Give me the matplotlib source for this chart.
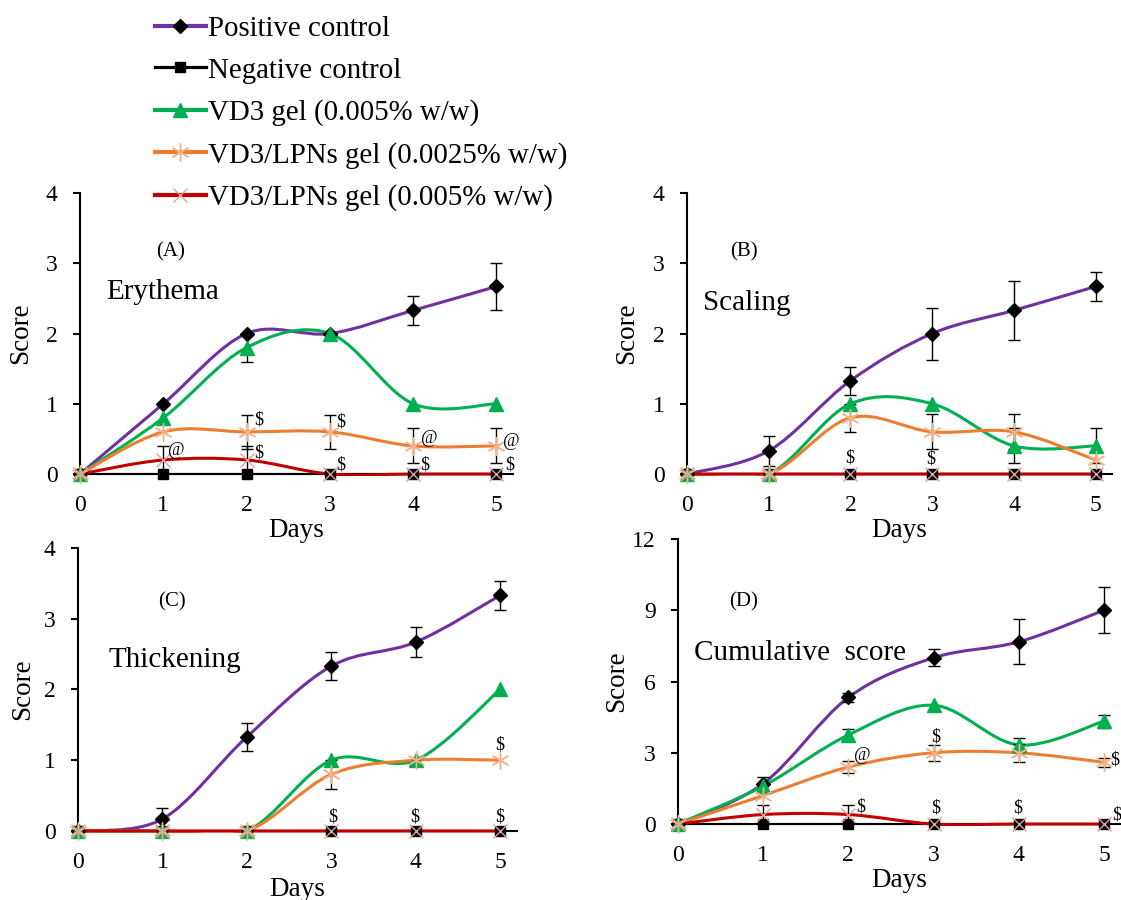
import numpy as np
import matplotlib
matplotlib.use("Agg")
import matplotlib.pyplot as plt
from matplotlib.path import Path
from matplotlib.patches import PathPatch, Rectangle
from matplotlib.lines import Line2D

plt.rcParams["font.family"] = ["Liberation Serif", "DejaVu Serif"]

days = [0, 1, 2, 3, 4, 5]
series_names = ["Positive control", "Negative control", "VD3 gel (0.005% w/w)",
                "VD3/LPNs gel (0.0025% w/w)", "VD3/LPNs gel (0.005% w/w)"]

# (A) Erythema
ery_pos = [0, 1.0, 2.0, 2.0, 2.33, 2.67]
ery_pos_err = [0, 0, 0, 0, 0.21, 0.33]
ery_neg = [0, 0, 0, 0, 0, 0]
ery_vd3 = [0, 0.8, 1.8, 2.0, 1.0, 1.0]
ery_vd3_err = [0, 0, 0.2, 0, 0, 0]
ery_lpn25 = [0, 0.6, 0.6, 0.6, 0.4, 0.4]
ery_lpn25_err = [0, 0, 0.24, 0.24, 0.25, 0.25]
ery_lpn5 = [0, 0.2, 0.2, 0, 0, 0]
ery_lpn5_err = [0, 0.2, 0.2, 0, 0, 0]
ery_marks = [(1.16, 0.34, "@"), (2.14, 0.77, "$"), (2.14, 0.30, "$"),
             (3.13, 0.74, "$"), (3.13, 0.13, "$"), (4.19, 0.51, "@"),
             (4.14, 0.13, "$"), (5.18, 0.46, "@"), (5.16, 0.13, "$")]

# (B) Scaling
sca_pos = [0, 0.33, 1.33, 2.0, 2.33, 2.67]
sca_pos_err = [0, 0.21, 0.2, 0.37, 0.42, 0.21]
sca_neg = [0, 0, 0, 0, 0, 0]
sca_vd3 = [0, 0, 1.0, 1.0, 0.4, 0.4]
sca_vd3_err = [0, 0, 0, 0, 0.25, 0.25]
sca_lpn25 = [0, 0, 0.8, 0.6, 0.6, 0.2]
sca_lpn25_err = [0, 0, 0.2, 0.25, 0.25, 0]
sca_lpn5 = [0, 0, 0, 0, 0, 0]
sca_lpn5_err = [0, 0, 0, 0, 0, 0]
sca_marks = [(1.99, 0.23, "$"), (2.98, 0.21, "$")]

# (C) Thickening
thi_pos = [0, 0.17, 1.33, 2.33, 2.67, 3.33]
thi_pos_err = [0, 0.16, 0.2, 0.2, 0.21, 0.21]
thi_neg = [0, 0, 0, 0, 0, 0]
thi_vd3 = [0, 0, 0, 1.0, 1.0, 2.0]
thi_vd3_err = [0, 0, 0, 0, 0, 0]
thi_lpn25 = [0, 0, 0, 0.8, 1.0, 1.0]
thi_lpn25_err = [0, 0, 0, 0.2, 0, 0]
thi_lpn5 = [0, 0, 0, 0, 0, 0]
thi_lpn5_err = [0, 0, 0, 0, 0, 0]
thi_marks = [(3.02, 0.2, "$"), (3.99, 0.2, "$"), (5.0, 0.2, "$"), (5.0, 1.22, "$")]

# (D) Cumulative score
cum_pos = [0, 1.7, 5.33, 7.0, 7.67, 9.0]
cum_pos_err = [0, 0.3, 0.2, 0.35, 0.95, 0.97]
cum_neg = [0, 0, 0, 0, 0, 0]
cum_vd3 = [0, 1.6, 3.75, 5.0, 3.33, 4.33]
cum_vd3_err = [0, 0, 0.26, 0, 0.3, 0.28]
cum_lpn25 = [0, 1.2, 2.4, 3.0, 3.0, 2.6]
cum_lpn25_err = [0, 0, 0.25, 0.33, 0.38, 0.2]
cum_lpn5 = [0, 0.4, 0.4, 0, 0, 0]
cum_lpn5_err = [0, 0.4, 0.4, 0, 0, 0]
cum_marks = [(2.16, 2.9, "@"), (3.03, 3.66, "$"), (5.13, 2.69, "$"),
             (2.14, 0.72, "$"), (3.03, 0.67, "$"), (3.99, 0.67, "$"), (5.15, 0.38, "$")]

# line colour, marker, size, face, edge, edge width, line width
styles = [
    ("#7030A0", "D", 7.5, "black", "black", 1.0, 2.2),
    ("black", "s", 6.5, "black", "black", 1.0, 1.5),
    ("#00B050", "^", 10, "#00B050", "#00B050", 1.0, 2.2),
    ("#ED7D31", (6, 2, 0), 13, "#F4B183", "#F4B183", 1.0, 2.2),
    ("#C00000", "x", 10, "#E6A0A0", "#E6A0A0", 1.0, 2.2),
]

panels = [
    # letter, title, values, errors, marks, ymax, yticks, axes rect, title pos, letter pos, label offsets
    ("(A)", "Erythema", [ery_pos, ery_neg, ery_vd3, ery_lpn25, ery_lpn5],
     [ery_pos_err, None, ery_vd3_err, ery_lpn25_err, ery_lpn5_err], ery_marks,
     4, [0, 1, 2, 3, 4], [0.0714, 0.4733, 0.3863, 0.3122], (0.31, 2.59), (1.09, 3.16), (-0.109, -0.157)),
    ("(B)", "Scaling", [sca_pos, sca_neg, sca_vd3, sca_lpn25, sca_lpn5],
     [sca_pos_err, None, sca_vd3_err, sca_lpn25_err, sca_lpn5_err], sca_marks,
     4, [0, 1, 2, 3, 4], [0.6128, 0.4733, 0.3793, 0.3122], (0.20, 2.44), (0.70, 3.16), (-0.113, -0.157)),
    ("(C)", "Thickening", [thi_pos, thi_neg, thi_vd3, thi_lpn25, thi_lpn5],
     [thi_pos_err, None, thi_vd3_err, thi_lpn25_err, thi_lpn5_err], thi_marks,
     4, [0, 1, 2, 3, 4], [0.0696, 0.0767, 0.3916, 0.3144], (0.36, 2.42), (1.11, 3.24), (-0.098, -0.163)),
    ("(D)", "Cumulative  score", [cum_pos, cum_neg, cum_vd3, cum_lpn25, cum_lpn5],
     [cum_pos_err, None, cum_vd3_err, cum_lpn25_err, cum_lpn5_err], cum_marks,
     12, [0, 3, 6, 9, 12], [0.6048, 0.0844, 0.3952, 0.3167], (0.19, 7.19), (0.77, 9.34), (-0.111, -0.154)),
]


def smooth_path(xs, ys):
    # Excel-like smoothed line (Catmull-Rom as cubic Bezier segments)
    pts = np.column_stack([xs, ys]).astype(float)
    n = len(pts)
    verts = [pts[0]]
    codes = [Path.MOVETO]
    for i in range(n - 1):
        p0 = pts[max(i - 1, 0)]
        p1 = pts[i]
        p2 = pts[i + 1]
        p3 = pts[min(i + 2, n - 1)]
        verts += [p1 + (p2 - p0) / 6, p2 - (p3 - p1) / 6, p2]
        codes += [Path.CURVE4] * 3
    return Path(verts, codes)


fig = plt.figure(figsize=(11.21, 9), dpi=100)

for letter, title, values, errors, marks, ymax, yticks, rect, tpos, lpos, lab in panels:
    ax = fig.add_axes(rect)
    # keep smoothed curves from dipping under the x axis
    clip = Rectangle((-0.05, -0.006), 1.2, 1.2, transform=ax.transAxes, visible=False)
    ax.add_artist(clip)
    for k, (vals, style) in enumerate(zip(values, styles)):
        color, marker, ms, mfc, mec, mew, lw = style
        z = 3 + k * 0.1
        if k == 1:
            ax.plot(days, vals, color=color, lw=lw, zorder=z, clip_on=False)
        else:
            curve = PathPatch(smooth_path(days, vals), fill=False, edgecolor=color,
                              lw=lw, zorder=z, capstyle="round")
            ax.add_patch(curve)
            curve.set_clip_path(clip)
        err = errors[k]
        if err is not None:
            idx = [i for i, e in enumerate(err) if e > 0]
            if idx:
                ax.errorbar([days[i] for i in idx], [vals[i] for i in idx],
                            yerr=[err[i] for i in idx], fmt="none", ecolor="black",
                            elinewidth=1.0, capsize=4, capthick=1.0, zorder=5, clip_on=False)
        ax.plot(days, vals, linestyle="none", marker=marker, ms=ms, mfc=mfc, mec=mec,
                mew=mew, zorder=6 + k * 0.1, clip_on=False)

    for mx, my, mt in marks:
        ax.text(mx, my, mt, fontsize=13, ha="center", va="center", zorder=7)

    ax.text(lpos[0], lpos[1], letter, fontsize=15, ha="center", va="center")
    ax.text(tpos[0], tpos[1], title, fontsize=21, ha="left", va="center")

    ax.set_xlim(0, 5.2)
    ax.set_ylim(0, ymax)
    ax.set_xticks(days)
    ax.set_yticks(yticks)
    ax.spines[["top", "right"]].set_visible(False)
    ax.spines["left"].set_linewidth(1.5)
    ax.spines["bottom"].set_linewidth(1.5)
    ax.tick_params(axis="x", length=0, pad=15, labelsize=17)
    ax.tick_params(axis="y", length=5, width=1.5, direction="out", pad=11, labelsize=17)
    ax.set_xlabel("Days", fontsize=19.5)
    ax.set_ylabel("Score", fontsize=19.5)
    ax.xaxis.set_label_coords(0.5, lab[1])
    ax.yaxis.set_label_coords(lab[0], 0.5)
    ax.patch.set_alpha(0)

handles = []
for color, marker, ms, mfc, mec, mew, lw in styles:
    handles.append(Line2D([], [], color=color, lw=lw + 0.8, marker=marker, ms=ms,
                          mfc=mfc, mec=mec, mew=mew))

fig.legend(handles, series_names, loc="upper left", bbox_to_anchor=(155 / 1121, 1 - 15.5 / 900),
           frameon=False, fontsize=20.8, handlelength=1.75, handletextpad=0.1,
           labelspacing=0.54, borderpad=0, borderaxespad=0, numpoints=1)

plt.savefig("out.png", dpi=100)
